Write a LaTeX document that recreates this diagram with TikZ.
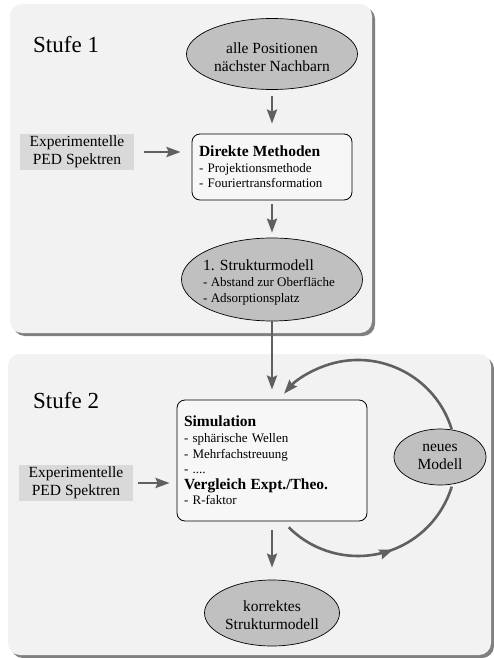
\documentclass[tikz,border=0pt]{standalone}
\usepackage{fontspec}
\setmainfont{Liberation Serif}
\usetikzlibrary{arrows.meta,decorations.markings,shapes.geometric}
\definecolor{panelfill}{HTML}{F2F2F2}
\definecolor{shadowc}{HTML}{808080}
\definecolor{ellfill}{HTML}{C0C0C0}
\definecolor{expfill}{HTML}{D9D9D9}
\definecolor{arrc}{HTML}{606060}
\newcommand\bigf{\fontsize{15.5}{17.5}\selectfont}
\newcommand\smallf{\fontsize{13}{15.6}\selectfont}
\begin{document}
\begin{tikzpicture}[x=1pt,y=1pt,
  panel/.style={fill=panelfill, rounded corners=12pt},
  shadowbox/.style={fill=shadowc, rounded corners=12pt},
  ell/.style={ellipse, draw=black, line width=0.7pt, fill=ellfill, inner sep=0pt},
  elltext/.style={inner sep=0pt, font=\bigf, align=center},
  expbox/.style={fill=expfill, minimum width=114pt, minimum height=36pt, inner sep=0pt, align=center, font=\bigf},
  methbox/.style={draw=black, line width=0.8pt, fill=white!97!black, rounded corners=8pt, inner sep=0pt, align=left, font=\smallf},
  tipshape/.style={},
  arrline/.style={draw=arrc, line width=2.6pt},
  arr/.style={arrline, -{Stealth[length=14pt,width=10pt,inset=2pt]}},
  title/.style={anchor=base west, inner sep=0pt, font=\fontsize{23}{26}\selectfont}]

\useasboundingbox (0,0) rectangle (494,-658);

% panels
\path[shadowbox] (13,-7) rectangle (375,-336);
\path[panel] (10,-4) rectangle (372,-333);
\path[shadowbox] (11,-357) rectangle (494,-658);
\path[panel] (8,-354) rectangle (491,-655);

% titles
\node[title] (t1) at (33,-53) {Stufe 1};
\node[title] (t2) at (33,-408) {Stufe 2};

% stage 1
\node[ell, minimum width=171pt, minimum height=71pt] (e1) at (272,-54) {};
\node[elltext, yshift=-3pt] (e1t) at (e1.center) {alle Positionen\\nächster Nachbarn};

\node[methbox, minimum width=160pt, minimum height=66pt, text width=146pt] (dm) at (272,-167)
  {{\bigf\bfseries Direkte Methoden}\\- Projektionsmethode\\- Fouriertransformation};

\node[expbox] (exp1) at (77,-152) {Experimentelle\\PED Spektren};

\node[ell, minimum width=181pt, minimum height=83pt] (e2) at (272,-279.5) {};
\node[inner sep=0pt, align=left, font=\smallf, anchor=west, yshift=-3pt] (e2t) at (203,-279.5)
  {{\bigf 1. Strukturmodell}\\- Abstand zur Oberfläche\\- Adsorptionsplatz};

% stage 2
\node[methbox, minimum width=190pt, minimum height=121pt, text width=176pt] (sim) at (272,-460.5)
  {{\bigf\bfseries Simulation}\\- sphärische Wellen\\- Mehrfachstreuung\\- ....\\{\bigf\bfseries Vergleich Expt./Theo.}\\- R-faktor};

\node[expbox] (exp2) at (76,-483) {Experimentelle\\PED Spektren};

\node[ell, minimum width=135pt, minimum height=66pt] (korr) at (272,-613) {};
\node[elltext, yshift=-2pt] (korrt) at (korr.center) {korrektes\\Strukturmodell};

\node[ell, minimum width=92pt, minimum height=56pt] (neu) at (440,-457) {};
\node[elltext] (neut) at (neu.center) {neues\\Modell};

% arrows
\draw[arr, shorten <=6pt, shorten >=10pt] (e1.south) -- (dm.north);
\draw[arr, shorten <=10pt, shorten >=11pt] (exp1.east) -- (exp1.east -| dm.west);
\draw[arr, shorten <=4pt, shorten >=5pt] (dm.south) -- (e2.north);
\draw[arr, shorten >=10pt] (e2.south) -- (sim.north);
\draw[arr, shorten <=5pt, shorten >=7pt] (exp2.east) -- (exp2.east -| sim.west);
\draw[arr, shorten <=9pt, shorten >=12pt] (sim.south) -- (korr.north);

% feedback loop
\coordinate (lc) at (358,-458);
\draw[arr] (lc) ++(17:98) arc[start angle=17, end angle=139, radius=98];
\draw[arrline, postaction={decorate}, decoration={markings,
    mark=at position 0.56 with {\arrow{Stealth[length=14pt,width=10pt,inset=2pt]}}}]
  (lc) ++(-135:98) arc[start angle=-135, end angle=-17, radius=98];
\end{tikzpicture}
\end{document}
